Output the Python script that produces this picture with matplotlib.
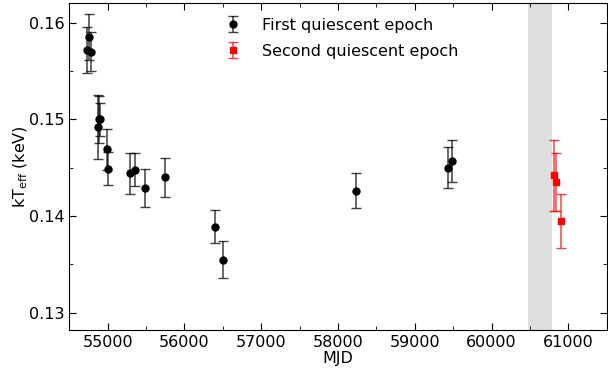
import matplotlib
matplotlib.use("Agg")
import matplotlib.pyplot as plt
from matplotlib.ticker import MultipleLocator

# first quiescent epoch
mjd1 = [54735, 54752, 54778, 54880, 54892, 54905, 54992, 55009,
        55296, 55361, 55488, 55740, 56396, 56505, 58240, 59431, 59479]
kt1 = [0.1572, 0.1585, 0.1570, 0.1492, 0.1500, 0.1500, 0.1469, 0.1449,
       0.1444, 0.1448, 0.1429, 0.1440, 0.1389, 0.1355, 0.1426, 0.1450, 0.1457]
err1 = [0.0024, 0.0024, 0.0020, 0.0033, 0.0024, 0.0017, 0.0021, 0.0017,
        0.0021, 0.0017, 0.0020, 0.0020, 0.0017, 0.0019, 0.0018, 0.0021, 0.0022]

# second quiescent epoch
mjd2 = [60817, 60843, 60900]
kt2 = [0.1442, 0.1435, 0.1395]
err2 = [0.0037, 0.0030, 0.0028]

# grey band
band = [60470, 60785]

fig = plt.figure(figsize=(6.08, 3.73), dpi=100)
ax = fig.add_axes([0.114, 0.115, 0.884, 0.876])

ax.axvspan(band[0], band[1], color="#dedede", lw=0, zorder=0)

e1 = ax.errorbar(mjd1, kt1, yerr=err1, fmt="o", color="black", ms=5,
                 capsize=3.5, elinewidth=1.1, capthick=1.0,
                 label="First quiescent epoch")
e2 = ax.errorbar(mjd2, kt2, yerr=err2, fmt="s", color="red", ms=5,
                 capsize=3.5, elinewidth=1.1, capthick=1.0,
                 label="Second quiescent epoch")
for e in (e1, e2):
    for c in e[1]:
        c.set_alpha(0.75)
    for b in e[2]:
        b.set_alpha(0.75)

ax.set_xlim(54500, 61500)
ax.set_ylim(0.1282, 0.162)
ax.xaxis.set_major_locator(MultipleLocator(1000))
ax.xaxis.set_minor_locator(MultipleLocator(500))
ax.yaxis.set_major_locator(MultipleLocator(0.01))
ax.yaxis.set_minor_locator(MultipleLocator(0.005))
ax.tick_params(which="both", direction="in", top=True, right=True, labelsize=11.5)
ax.tick_params(which="major", length=5)
ax.tick_params(which="minor", length=3)

ax.set_xlabel("MJD", fontsize=11.5, labelpad=1)
ax.set_ylabel(r"kT$_{\rm eff}$ (keV)", fontsize=11.5, labelpad=-1)

ax.legend(loc="upper center", frameon=False, fontsize=11.5,
          bbox_to_anchor=(0.5, 1.0), handletextpad=0.8, labelspacing=0.7)

fig.savefig("out.png", dpi=100)
